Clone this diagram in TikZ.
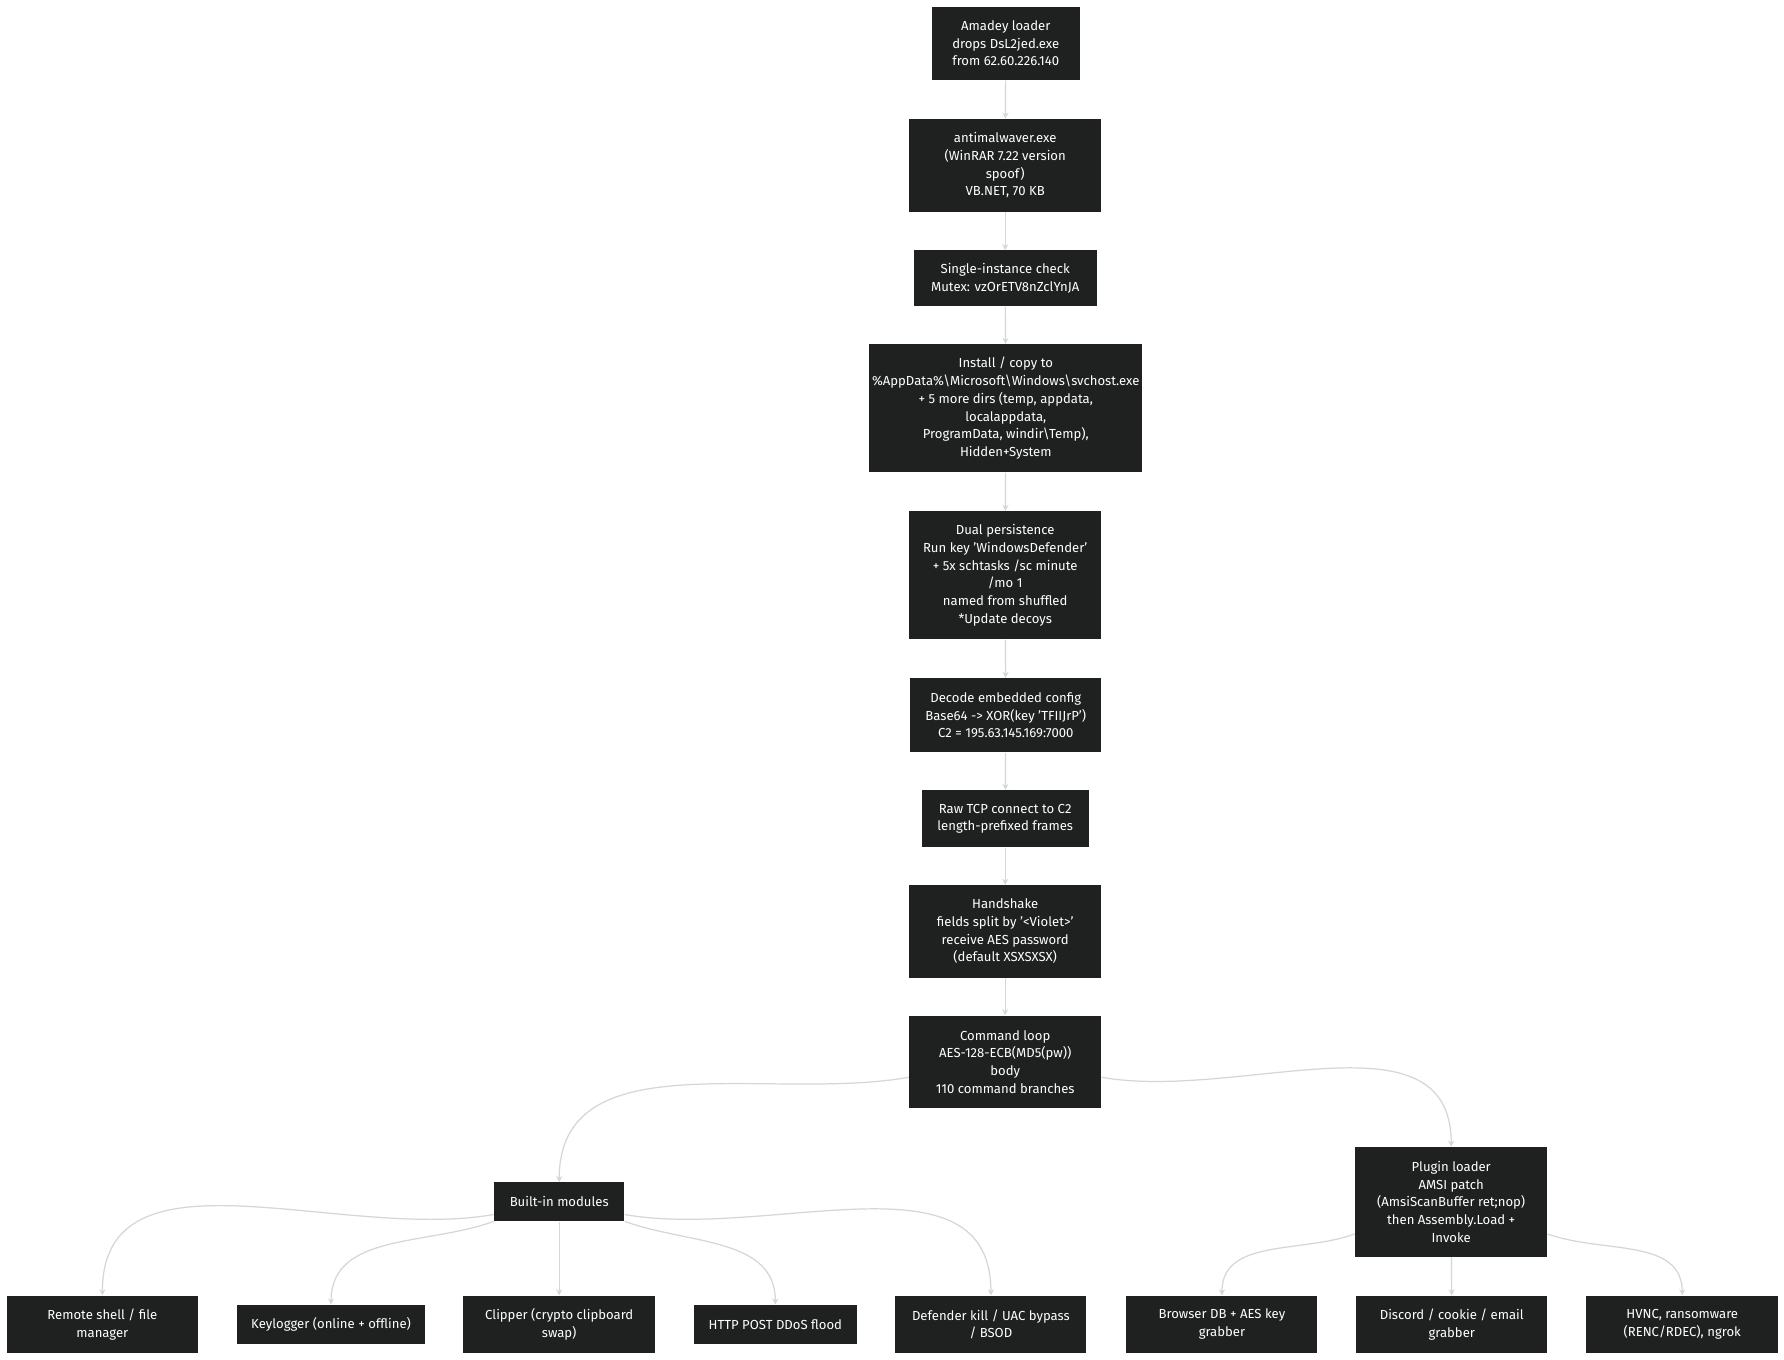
\documentclass[tikz,border=0pt]{standalone}
\usepackage{fontspec}
\setmainfont{Fira Sans}
\usetikzlibrary{arrows.meta}
\definecolor{nodebg}{HTML}{1F2020}
\definecolor{edge}{HTML}{D6D6D6}
\begin{document}
\begin{tikzpicture}[x=0.75pt,y=-0.75pt,
  box/.style={fill=nodebg,text=white,font=\fontsize{8.6}{11.6}\selectfont,align=center,inner sep=0pt},
  e/.style={draw=edge,line width=0.8pt,-{Stealth[length=4pt,width=4pt]}}]
\fill[white] (0,0) rectangle (1560,1189);
\useasboundingbox (0,0) rectangle (1560,1189);
\newcommand\bx[6]{\node[box,minimum width=#4*0.75pt,minimum height=#5*0.75pt] (#1) at (#2,#3) {#6};}
\bx{A}{879.5}{38}{129}{64}{Amadey loader\\drops DsL2jed.exe\\from 62.60.226.140}
\bx{B}{879}{144.5}{168}{81}{antimalwaver.exe\\(WinRAR 7.22 version\\spoof)\\VB.NET, 70 KB}
\bx{C}{879}{243.5}{160}{49}{Single-instance check\\Mutex: vzOrETV8nZclYnJA}
\bx{D}{879.5}{357}{239}{112}{Install / copy to\\\%AppData\%\textbackslash Microsoft\textbackslash Windows\textbackslash svchost.exe\\+ 5 more dirs (temp, appdata,\\localappdata,\\ProgramData, windir\textbackslash Temp),\\Hidden+System}
\bx{E}{879}{503}{168}{112}{Dual persistence\\Run key 'WindowsDefender'\\+ 5x schtasks /sc minute\\/mo 1\\named from shuffled\\*Update decoys}
\bx{F}{879.5}{625.5}{167}{65}{Decode embedded config\\Base64 -> XOR(key 'TFIIJrP')\\C2 = 195.63.145.169:7000}
\bx{G}{879}{716}{146}{50}{Raw TCP connect to C2\\length-prefixed frames}
\bx{H}{879}{814.5}{168}{81}{Handshake\\fields split by '<Violet>'\\receive AES password\\(default XSXSXSX)}
\bx{I}{879}{928.5}{168}{81}{Command loop\\AES-128-ECB(MD5(pw))\\body\\110 command branches}
\bx{J}{489}{1051}{114}{34}{Built-in modules}
\bx{K}{1269}{1051}{168}{96}{Plugin loader\\AMSI patch\\(AmsiScanBuffer ret;nop)\\then Assembly.Load +\\Invoke}
\bx{L1}{89.5}{1158}{167}{50}{Remote shell / file\\manager}
\bx{L2}{289.5}{1158}{165}{34}{Keylogger (online + offline)}
\bx{L3}{489}{1158}{168}{50}{Clipper (crypto clipboard\\swap)}
\bx{L4}{678}{1158}{142}{34}{HTTP POST DDoS flood}
\bx{L5}{866.5}{1158}{167}{50}{Defender kill / UAC bypass\\/ BSOD}
\bx{L6}{1068.5}{1158}{167}{50}{Browser DB + AES key\\grabber}
\bx{L7}{1269.5}{1158}{167}{50}{Discord / cookie / email\\grabber}
\bx{L8}{1471}{1158}{168}{50}{HVNC, ransomware\\(RENC/RDEC), ngrok}
\foreach \a/\b in {A/B,B/C,C/D,D/E,E/F,F/G,G/H,H/I,J/L3,K/L7}{\draw[e] (\a) -- (\b);}
\draw[e] (I.west|-0,942) to[out=190,in=90] (J.north);
\draw[e] (I.east|-0,942) to[out=-10,in=90] (K.north);
\draw[e] (J.west|-0,1062) to[out=190,in=90] (L1.north);
\draw[e] (J.west|-0,1068) to[out=200,in=90] (L2.north);
\draw[e] (J.east|-0,1068) to[out=-20,in=90] (L4.north);
\draw[e] (J.east|-0,1062) to[out=-10,in=90] (L5.north);
\draw[e] (K.west|-0,1079) to[out=200,in=90] (L6.north);
\draw[e] (K.east|-0,1079) to[out=-20,in=90] (L8.north);
\end{tikzpicture}
\end{document}
